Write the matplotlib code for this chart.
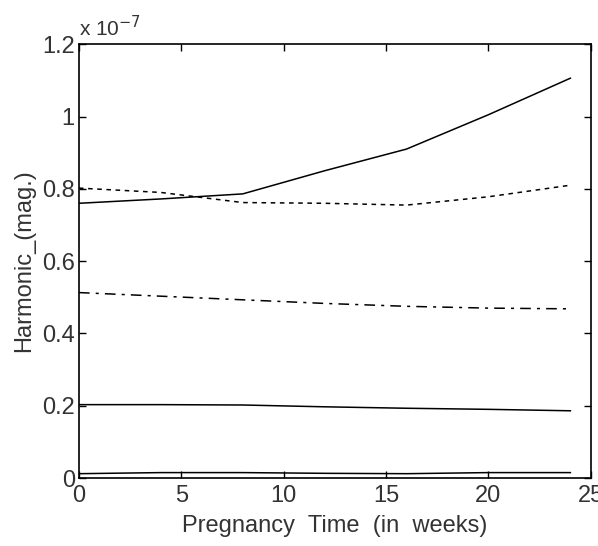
import matplotlib
matplotlib.use("Agg")
import matplotlib.pyplot as plt

plt.rcParams["font.family"] = ["Liberation Sans", "DejaVu Sans"]

# weeks
weeks = [0, 4, 8, 12, 16, 20, 24]

# harmonic magnitudes (x 1e-7)
h_top = [0.760, 0.772, 0.786, 0.850, 0.910, 1.005, 1.106]
h_dotted = [0.802, 0.790, 0.762, 0.760, 0.755, 0.778, 0.810]
h_dashdot = [0.513, 0.503, 0.493, 0.483, 0.475, 0.470, 0.468]
h_mid = [0.203, 0.203, 0.202, 0.197, 0.193, 0.190, 0.186]
h_low = [0.012, 0.015, 0.015, 0.013, 0.012, 0.015, 0.015]

fig = plt.figure(figsize=(5.98, 5.46), dpi=100)
ax = fig.add_axes([0.132, 0.1245, 0.856, 0.7945])

ax.plot(weeks, h_top, color="black", linewidth=1.1)
ax.plot(weeks, h_dotted, color="black", linewidth=1.1, linestyle=(0, (3, 3)))
ax.plot(weeks, h_dashdot, color="black", linewidth=1.1, linestyle=(0, (7, 4, 2, 4)))
ax.plot(weeks, h_mid, color="black", linewidth=1.1)
ax.plot(weeks, h_low, color="black", linewidth=1.1)

ax.set_xlim(0, 25)
ax.set_ylim(0, 1.2)
ax.set_xticks([0, 5, 10, 15, 20, 25])
ax.set_yticks([0, 0.2, 0.4, 0.6, 0.8, 1.0, 1.2])
ax.set_yticklabels(["0", "0.2", "0.4", "0.6", "0.8", "1", "1.2"])
ax.tick_params(direction="in", top=True, right=True, length=5, width=1,
               labelsize=17, labelcolor="#333333")
ax.tick_params(axis="x", pad=5)
ax.tick_params(axis="y", pad=3)
for s in ax.spines.values():
    s.set_linewidth(1.2)

ax.set_xlabel("Pregnancy  Time  (in  weeks)", fontsize=17, labelpad=6,
              color="#333333")
ax.set_ylabel("Harmonic_(mag.)", fontsize=17, labelpad=5, color="#333333")
ax.text(0.0, 1.01, r"x 10$^{-7}$", transform=ax.transAxes, fontsize=15,
        ha="left", va="bottom", color="#333333")

fig.savefig("out.png", dpi=100)
